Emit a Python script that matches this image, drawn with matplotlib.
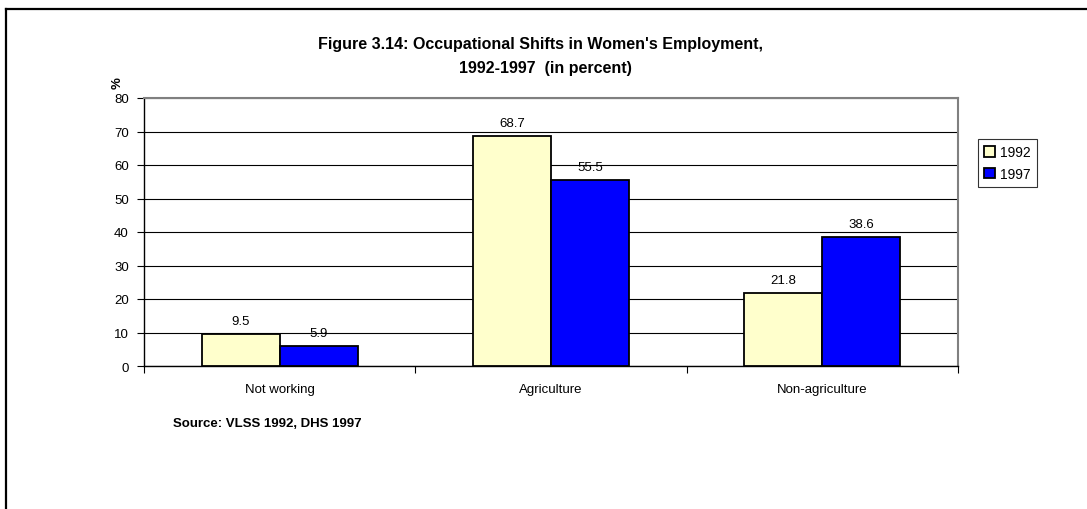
import matplotlib
matplotlib.use('Agg')
import numpy as np
from matplotlib import pyplot as plt
from matplotlib.lines import Line2D

plt.rcParams['font.family'] = ['Liberation Sans', 'DejaVu Sans']

categories = ['Not working', 'Agriculture', 'Non-agriculture']
series_names = ['1992', '1997']
vals_1992 = [9.5, 68.7, 21.8]
vals_1997 = [5.9, 55.5, 38.6]
colors = ['#FFFFCC', '#0000FF']

W, H = 1087, 510
fig = plt.figure(figsize=(W / 100, H / 100), dpi=100)
ax = fig.add_axes([144 / W, 1 - 367 / H, (958 - 144) / W, (367 - 99) / H])

x = np.arange(len(categories))
bw = 0.288
b1 = ax.bar(x - bw / 2, vals_1992, bw, color=colors[0], edgecolor='black',
            linewidth=1.3, zorder=3, label=series_names[0])
b2 = ax.bar(x + bw / 2, vals_1997, bw, color=colors[1], edgecolor='black',
            linewidth=1.3, zorder=3, label=series_names[1])

# value labels above the bars
for bars, vals in [(b1, vals_1992), (b2, vals_1997)]:
    for rect, v in zip(bars, vals):
        ax.annotate(f'{v:.1f}', (rect.get_x() + rect.get_width() / 2, v),
                    xytext=(0, 5), textcoords='offset points',
                    ha='center', va='bottom', fontsize=9.5, zorder=4)

ax.set_ylim(0, 80)
ax.set_xlim(-0.5, 2.5)
ax.set_yticks(range(0, 81, 10))
ax.yaxis.grid(True, color='black', linewidth=0.8, zorder=0)
ax.set_axisbelow(True)

ax.set_xticks(x)
ax.set_xticklabels(categories, fontsize=9.5)
ax.set_xticks([-0.5, 0.5, 1.5, 2.5], minor=True)
ax.tick_params(axis='x', which='major', length=0, pad=12)
ax.tick_params(axis='x', which='minor', length=5, width=0.8, direction='out')
ax.tick_params(axis='y', length=5, width=0.8, labelsize=9.5, pad=6)

for s in ['left', 'bottom']:
    ax.spines[s].set_color('black')
    ax.spines[s].set_linewidth(1.0)
for s in ['top', 'right']:
    ax.spines[s].set_color('#808080')
    ax.spines[s].set_linewidth(1.5)

# title, axis unit and source note
fig.text(540 / W, 1 - 45 / H, "Figure 3.14: Occupational Shifts in Women's Employment,",
         ha='center', va='center', fontsize=11.5, fontweight='bold')
fig.text(545 / W, 1 - 69 / H, '1992-1997  (in percent)',
         ha='center', va='center', fontsize=11.5, fontweight='bold')
fig.text(118 / W, 1 - 83 / H, '%', rotation=90, ha='center', va='center',
         fontsize=9.5, fontweight='bold')
fig.text(173 / W, 1 - 424 / H, 'Source: VLSS 1992, DHS 1997',
         ha='left', va='center', fontsize=9.5, fontweight='bold')

leg = fig.legend(handles=[b1, b2], loc='upper left',
                 bbox_to_anchor=(978 / W, 1 - 140 / H), fontsize=10,
                 frameon=True, fancybox=False, handlelength=0.8,
                 handleheight=0.8, handletextpad=0.3, borderpad=0.45,
                 labelspacing=0.55, borderaxespad=0)
leg.get_frame().set_edgecolor('black')
leg.get_frame().set_linewidth(0.8)

# outer frame of the chart (left and top edges visible)
fig.add_artist(Line2D([5.5 / W, 5.5 / W], [0, 1 - 9.5 / H], color='black',
                      linewidth=1.6, transform=fig.transFigure))
fig.add_artist(Line2D([5.5 / W, 1], [1 - 9.5 / H, 1 - 9.5 / H], color='black',
                      linewidth=1.6, transform=fig.transFigure))

fig.savefig('out.png', dpi=100)
